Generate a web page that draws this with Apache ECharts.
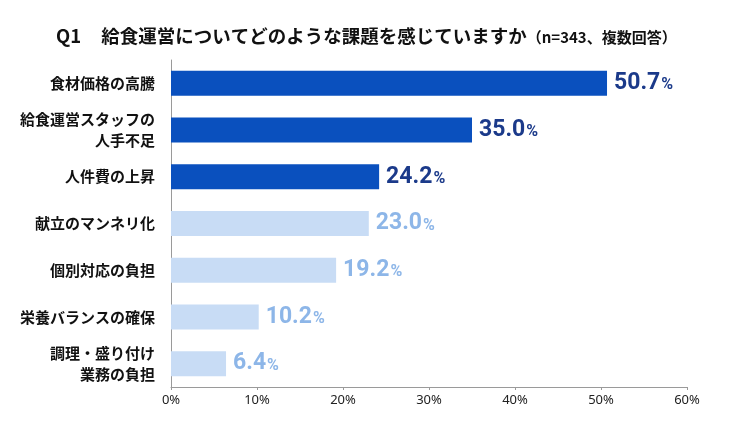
<!DOCTYPE html>
<html>
<head>
<meta charset="utf-8">
<script src="https://cdn.jsdelivr.net/npm/echarts@6/dist/echarts.min.js"></script>
<style>
  html, body { margin: 0; padding: 0; background: #fff; }
  #main { width: 751px; height: 429px; }
</style>
</head>
<body>
<div id="main"></div>
<script>
// 項目（上から順）
var categories = ['食材価格の高騰', '給食運営スタッフの\n人手不足', '人件費の上昇', '献立のマンネリ化', '個別対応の負担', '栄養バランスの確保', '調理・盛り付け\n業務の負担'];
// 回答率（%）
var values = [50.7, 35.0, 24.2, 23.0, 19.2, 10.2, 6.4];
// 上位3項目は濃い色
var highlight = [true, true, true, false, false, false, false];
var xTicks = [0, 10, 20, 30, 40, 50, 60];

var darkBar = '#0A50BE', lightBar = '#C8DCF5';
var darkText = '#1B3A8A', lightText = '#8DB6E8';
var numFont = 'Roboto, "Noto Sans", sans-serif';
var jpFont = '"Noto Sans CJK JP", sans-serif';

var chart = echarts.init(document.getElementById('main'));

var seriesData = values.map(function (v, i) {
  var c = highlight[i] ? darkText : lightText;
  return {
    value: v,
    itemStyle: { color: highlight[i] ? darkBar : lightBar },
    label: {
      rich: {
        v: { fontSize: 23, fontWeight: 'bold', color: c, fontFamily: numFont },
        p: { fontSize: 16, fontWeight: 'bold', color: c, fontFamily: numFont, padding: [4, 0, 0, 1] }
      }
    }
  };
});

chart.setOption({
  backgroundColor: '#fff',
  title: {
    text: '{a|Q1}{s| }{a|給食運営についてどのような課題を感じていますか}{b|（n=343、複数回答）}',
    left: 51,
    top: 22,
    textStyle: {
      rich: {
        a: { fontSize: 18.5, fontWeight: 'bold', color: '#111', fontFamily: jpFont },
        s: { width: 20 },
        b: { fontSize: 15, fontWeight: 'bold', color: '#111', fontFamily: jpFont, padding: [2, 0, 0, 0] }
      }
    }
  },
  grid: { left: 171, right: 64, top: 60, bottom: 42, containLabel: false },
  xAxis: {
    type: 'value',
    min: 0,
    max: 60,
    interval: 10,
    axisLine: { show: true, lineStyle: { color: '#9a9a9a', width: 1 } },
    axisTick: { show: true, length: 3, lineStyle: { color: '#9a9a9a' } },
    splitLine: { show: false },
    axisLabel: {
      formatter: function (v) { return xTicks.indexOf(v) >= 0 ? v + '%' : ''; },
      color: '#222',
      fontSize: 13,
      margin: 7,
      fontFamily: '"Noto Sans", sans-serif'
    }
  },
  yAxis: {
    type: 'category',
    inverse: true,
    data: categories,
    axisLine: { show: true, lineStyle: { color: '#9a9a9a', width: 1 } },
    axisTick: { show: false },
    axisLabel: {
      color: '#111',
      fontSize: 15,
      fontWeight: 'bold',
      lineHeight: 21,
      margin: 16,
      align: 'right',
      fontFamily: jpFont
    }
  },
  series: [{
    type: 'bar',
    data: seriesData,
    barWidth: 25,
    label: {
      show: true,
      position: 'right',
      distance: 7,
      formatter: function (p) { return '{v|' + p.value.toFixed(1) + '}{p|%}'; }
    }
  }]
});
</script>
</body>
</html>
